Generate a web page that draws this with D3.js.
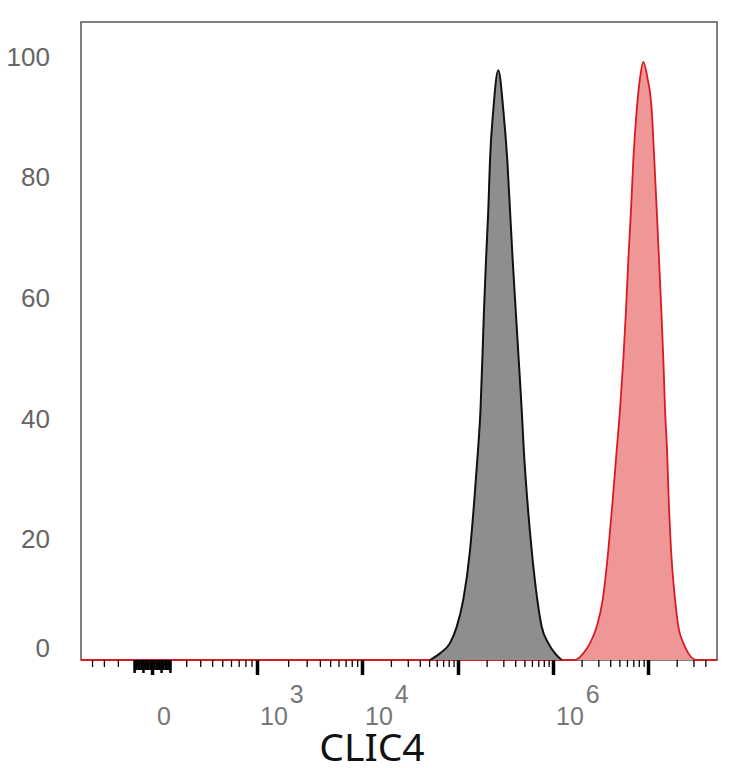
<!DOCTYPE html>
<html>
<head>
<meta charset="utf-8">
<script src="https://cdn.jsdelivr.net/npm/d3@7"></script>
<style>
  body { margin: 0; background: #fff; }
  svg { display: block; }
</style>
</head>
<body>
<svg id="chart" width="734" height="768"></svg>
<script>
// histogram outlines (intensity, % of max)
const grayIntensity = [5.11e4, 6.49e4, 8.25e4, 9.69e4, 1.137e5, 1.338e5, 1.485e5, 1.624e5, 1.725e5, 1.803e5,
    1.878e5, 1.971e5, 2.084e5, 2.172e5, 2.352e5, 2.656e5, 2.999e5, 3.303e5, 3.527e5, 3.765e5,
    4.05e5, 4.355e5, 4.684e5, 4.928e5, 5.364e5, 5.967e5, 6.834e5, 7.605e5, 8.923e5, 1.05e6,
    1.235e6];
const grayCount = [0, 1.1, 2.8, 5.5, 10, 18.2, 26.5, 34.8, 41.5, 49.8,
    58, 66.3, 74.6, 82.9, 91.2, 97.8, 91.2, 82.9, 74.6, 66.3,
    58, 49.8, 41.5, 34.8, 26.5, 18.2, 10, 5.5, 2.8, 1.1,
    0];

const redIntensity = [-510, 1.705e6, 2.084e6, 2.452e6, 2.884e6, 3.336e6, 3.821e6, 4.25e6, 4.683e6, 5.074e6,
    5.495e6, 5.867e6, 6.203e6, 6.624e6, 7.004e6, 7.605e6, 8.24e6, 8.923e6, 9.88e6, 1.094e7,
    1.165e7, 1.235e7, 1.306e7, 1.38e7, 1.449e7, 1.51e7, 1.585e7, 1.651e7, 1.746e7, 1.924e7,
    2.084e7, 2.353e7, 2.656e7, 3.255e7, 5.3e7];
const redCount = [0, 0, 1.1, 2.8, 5.5, 10, 18.2, 26.5, 34.8, 41.5,
    49.8, 58, 66.3, 74.6, 82.9, 91.2, 96.5, 99.2, 96.5, 91.2,
    82.9, 74.6, 66.3, 58, 49.8, 41.5, 34.8, 26.5, 18.2, 10,
    5.5, 2.8, 1.1, 0, 0];

const yTicks = [0, 20, 40, 60, 80, 100];
const majorTicks = [0, 1e3, 1e4, 1e5, 1e6, 1e7];
const labelTicks = [{ v: 0, base: "0", exp: "" }, { v: 1e3, base: "10", exp: "3" },
    { v: 1e4, base: "10", exp: "4" }, { v: 1e6, base: "10", exp: "6" }];
const zeroTicks = d3.range(-100, 101, 10);
const minorTicks = [-400, -300, -200, 200, 300, 400, 500, 600, 700, 800, 900]
    .concat([2, 3, 4, 5, 6, 7, 8, 9].map(m => m * 1e3))
    .concat([2, 3, 4, 5, 6, 7, 8, 9].map(m => m * 1e4))
    .concat([2, 3, 4, 5, 6, 7, 8, 9].map(m => m * 1e5))
    .concat([2, 3, 4, 5, 6, 7, 8, 9].map(m => m * 1e6))
    .concat([2, 3, 4].map(m => m * 1e7));

const svg = d3.select("#chart");
const plotLeft = 81, plotRight = 717, plotTop = 22, plotBottom = 660;

// logicle-like display: asinh then piecewise linear between decades
const W = 150;
const tf = v => Math.asinh(v / (2 * W)) / Math.LN10;
const x = d3.scaleLinear()
    .domain([-510, 0, 1e3, 1e4, 1e5, 1e6, 1e7, 5.3e7].map(tf))
    .range([plotLeft, 152, 257, 362, 458, 553, 648, plotRight]);
const y = d3.scaleLinear().domain([0, 105.8]).range([plotBottom, plotTop]);

// frame
svg.append("rect")
    .attr("x", plotLeft).attr("y", plotTop)
    .attr("width", plotRight - plotLeft).attr("height", plotBottom - plotTop)
    .attr("fill", "none").attr("stroke", "#555").attr("stroke-width", 1.5);

const area = d3.area().curve(d3.curveMonotoneX)
    .x(d => x(tf(d[0]))).y0(plotBottom).y1(d => y(d[1]));
const line = d3.line().curve(d3.curveMonotoneX)
    .x(d => x(tf(d[0]))).y(d => y(d[1]));

const red = redIntensity.map((v, i) => [v, redCount[i]]);
const gray = grayIntensity.map((v, i) => [v, grayCount[i]]);

svg.append("path").datum(red).attr("d", area).attr("fill", "#ef9797");
svg.append("path").datum(red).attr("d", line)
    .attr("fill", "none").attr("stroke", "#d81b22").attr("stroke-width", 1.8);
svg.append("path").datum(gray).attr("d", area).attr("fill", "#8e8e8e");
svg.append("path").datum(gray).attr("d", line)
    .attr("fill", "none").attr("stroke", "#111").attr("stroke-width", 2);

// x ticks
function tickAxis(values, size, width) {
    const g = svg.append("g")
        .attr("transform", `translate(0,${plotBottom})`)
        .call(d3.axisBottom(x).tickValues(values.map(tf)).tickSize(size).tickFormat(""));
    g.select(".domain").remove();
    g.selectAll("line").attr("stroke", "#000").attr("stroke-width", width);
}
tickAxis(minorTicks, 7, 1.3);
tickAxis(zeroTicks, 10, 2);
tickAxis([-100, -50, 0, 50, 100], 13, 2.5);
tickAxis(majorTicks, 15, 3.5);

// x tick labels with superscripts
labelTicks.forEach(t => {
    const txt = svg.append("text")
        .attr("x", x(tf(t.v)) + (t.exp ? 3 : 5))
        .attr("y", 725)
        .attr("font-family", "Liberation Sans, Arial, sans-serif")
        .attr("font-size", 25)
        .attr("fill", "#777")
        .text(t.base);
    if (t.exp) {
        txt.append("tspan").attr("dx", 2).attr("dy", -22).text(t.exp);
    }
});

// y axis labels
const yAxis = svg.append("g")
    .attr("transform", `translate(${plotLeft},0)`)
    .call(d3.axisLeft(y).tickValues(yTicks).tickSize(0).tickPadding(31));
yAxis.select(".domain").remove();
yAxis.selectAll("text")
    .attr("font-family", "Liberation Sans, Arial, sans-serif")
    .attr("font-size", 26)
    .attr("fill", "#666")
    .attr("dy", d => d === 0 ? "-0.14em" : "0.32em");

// axis title
svg.append("text")
    .attr("x", 372).attr("y", 761)
    .attr("text-anchor", "middle")
    .attr("font-family", "Noto Sans, Open Sans, sans-serif")
    .attr("font-size", 39)
    .attr("fill", "#111")
    .text("CLIC4");
</script>
</body>
</html>
